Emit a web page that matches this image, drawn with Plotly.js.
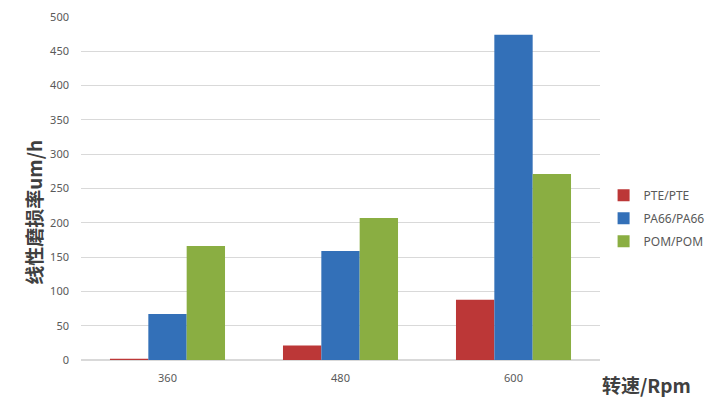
<!DOCTYPE html>
<html>
<head>
<meta charset="utf-8">
<script src="https://cdn.plot.ly/plotly-3.0.1.min.js"></script>
<style>html,body{margin:0;padding:0;background:#fff;}#chart{width:716px;height:412px;}</style>
</head>
<body>
<div id="chart"></div>
<script>
var categories = ["360", "480", "600"];
var seriesNames = ["PTE/PTE", "PA66/PA66", "POM/POM"];
var pteValues = [2, 21, 88];
var pa66Values = [67, 159, 474];
var pomValues = [166, 207, 271];
var yTicks = [0, 50, 100, 150, 200, 250, 300, 350, 400, 450, 500];
var colors = ["#bc3737", "#3370b8", "#8aae42"];

var values = [pteValues, pa66Values, pomValues];
var traces = values.map(function (v, i) {
  return {
    type: "bar",
    name: seriesNames[i],
    legendgroup: seriesNames[i],
    x: categories,
    y: v,
    marker: {color: colors[i], line: {width: 0}},
    hoverinfo: "x+y+name"
  };
});

var layout = {
  width: 716,
  height: 412,
  margin: {l: 81, r: 116, t: 17, b: 52},
  paper_bgcolor: "#ffffff",
  plot_bgcolor: "#ffffff",
  barmode: "group",
  bargap: 0.335,
  bargroupgap: 0,
  font: {family: "Noto Sans, Liberation Sans, sans-serif", color: "#595959", size: 11},
  xaxis: {
    type: "category",
    tickfont: {size: 11, color: "#595959"},
    showgrid: false,
    showline: false,
    zeroline: false,
    ticks: "",
    ticklabelstandoff: 10
  },
  yaxis: {
    range: [0, 500],
    tickvals: yTicks,
    tickfont: {size: 11, color: "#595959"},
    showgrid: true,
    gridcolor: "#d9d9d9",
    gridwidth: 1,
    zeroline: true,
    zerolinecolor: "#d9d9d9",
    zerolinewidth: 2,
    showline: false,
    ticks: "",
    ticklabelstandoff: 11
  },
  showlegend: true,
  legend: {
    xref: "container",
    yref: "container",
    x: 0.843,
    xanchor: "left",
    y: 0.47,
    yanchor: "middle",
    font: {size: 12, color: "#595959"},
    itemwidth: 30,
    tracegroupgap: 4,
    bgcolor: "rgba(0,0,0,0)"
  },
  annotations: [{
    text: "<b>线性磨损率um/h</b>",
    xref: "paper",
    yref: "paper",
    x: -0.092,
    y: 0.43,
    xanchor: "center",
    yanchor: "middle",
    textangle: -90,
    showarrow: false,
    font: {family: "Noto Sans CJK SC, Noto Sans, sans-serif", size: 19, color: "#404040"}
  }, {
    text: "<b>转速/Rpm</b>",
    xref: "paper",
    yref: "paper",
    x: 1.0,
    y: -0.025,
    xanchor: "left",
    yanchor: "top",
    showarrow: false,
    font: {family: "Noto Sans CJK SC, Noto Sans, sans-serif", size: 19, color: "#404040"}
  }]
};

Plotly.newPlot("chart", traces, layout, {displayModeBar: false, staticPlot: true});
</script>
</body>
</html>
